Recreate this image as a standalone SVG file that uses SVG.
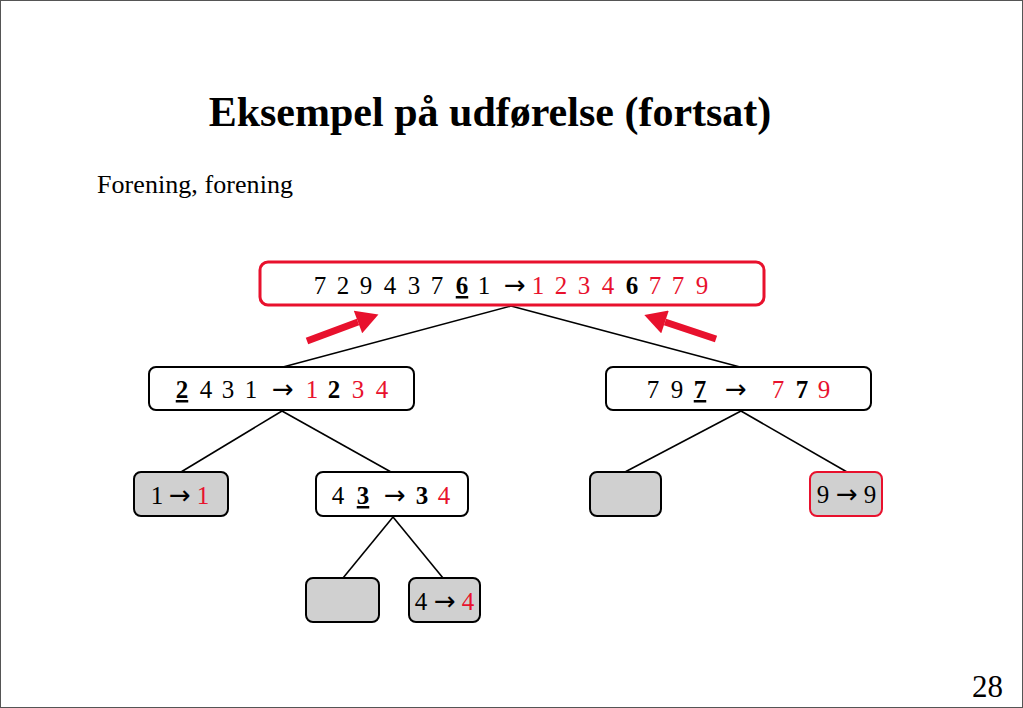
<svg xmlns="http://www.w3.org/2000/svg" width="1023" height="708" viewBox="0 0 1023 708">
<style>
text{font-family:"Liberation Serif","Times New Roman",serif;fill:#000}
.d{font-size:25px;text-anchor:middle}
.ar{font-family:"DejaVu Sans",sans-serif;font-size:26px;text-anchor:middle}
.r{fill:#e8112d}
.b{font-weight:bold}
.u{font-weight:bold;text-decoration:underline}
.n{fill:#fff;stroke:#000;stroke-width:2}
.g{fill:#d0d0d0;stroke:#000;stroke-width:2}
.gr{fill:#d0d0d0;stroke:#e8112d;stroke-width:2}
.conn line{stroke:#000;stroke-width:1.6}
.conn line.big{stroke:#e8112d;stroke-width:7}
</style>
<defs>
<marker id="rh" markerUnits="userSpaceOnUse" markerWidth="24" markerHeight="24" viewBox="0 0 20 22" refX="0" refY="11" orient="auto">
<path d="M0,0 L20,11 L0,22 z" fill="#e8112d"/>
</marker>
</defs>
<rect x="0.5" y="0.5" width="1022" height="707" fill="#fff" stroke="#555" stroke-width="1"/>
<text x="490" y="126" font-size="42" font-weight="bold" text-anchor="middle">Eksempel på udførelse (fortsat)</text>
<text x="97" y="193" font-size="26" textLength="196">Forening, forening</text>
<text x="1003" y="697" font-size="31" text-anchor="end">28</text>

<g class="conn">
<line x1="511" y1="306" x2="283" y2="367"/>
<line x1="511" y1="306" x2="740" y2="367"/>
<line x1="282" y1="411" x2="181" y2="472"/>
<line x1="282" y1="411" x2="391" y2="472"/>
<line x1="741" y1="411" x2="625" y2="472"/>
<line x1="741" y1="411" x2="847" y2="472"/>
<line x1="393" y1="517" x2="343" y2="578"/>
<line x1="393" y1="517" x2="443" y2="578"/>
<line class="big" x1="307" y1="341" x2="358" y2="322" marker-end="url(#rh)"/>
<line class="big" x1="716" y1="339" x2="665" y2="322" marker-end="url(#rh)"/>
</g>

<g id="root">
<rect x="260" y="262" width="504" height="43" rx="8" fill="#fff" stroke="#e8112d" stroke-width="3"/>
<text class="d" y="294"><tspan x="320">7</tspan><tspan x="343">2</tspan><tspan x="366">9</tspan><tspan x="390">4</tspan><tspan x="414">3</tspan><tspan x="437">7</tspan><tspan x="462" class="u">6</tspan><tspan x="484">1</tspan><tspan x="515" class="ar">→</tspan><tspan x="538" class="r">1</tspan><tspan x="561" class="r">2</tspan><tspan x="584" class="r">3</tspan><tspan x="608" class="r">4</tspan><tspan x="632" class="b">6</tspan><tspan x="655" class="r">7</tspan><tspan x="678" class="r">7</tspan><tspan x="702" class="r">9</tspan></text>
</g>

<g id="left">
<rect class="n" x="149" y="367" width="265" height="43" rx="7"/>
<text class="d" y="398"><tspan x="182" class="u">2</tspan><tspan x="206">4</tspan><tspan x="228">3</tspan><tspan x="251">1</tspan><tspan x="283" class="ar">→</tspan><tspan x="312" class="r">1</tspan><tspan x="334" class="b">2</tspan><tspan x="358" class="r">3</tspan><tspan x="382" class="r">4</tspan></text>
</g>

<g id="right">
<rect class="n" x="606" y="367" width="265" height="43" rx="7"/>
<text class="d" y="398"><tspan x="653">7</tspan><tspan x="677">9</tspan><tspan x="700" class="u">7</tspan><tspan x="736" class="ar">→</tspan><tspan x="778" class="r">7</tspan><tspan x="802" class="b">7</tspan><tspan x="824" class="r">9</tspan></text>
</g>

<g id="leaf1">
<rect class="g" x="134" y="472" width="94" height="44" rx="7"/>
<text class="d" y="504"><tspan x="157">1</tspan><tspan x="180" class="ar">→</tspan><tspan x="203" class="r">1</tspan></text>
</g>

<g id="n43">
<rect class="n" x="316" y="472" width="152" height="44" rx="7"/>
<text class="d" y="504"><tspan x="338">4</tspan><tspan x="363" class="u">3</tspan><tspan x="395" class="ar">→</tspan><tspan x="422" class="b">3</tspan><tspan x="444" class="r">4</tspan></text>
</g>

<g id="empty1">
<rect class="g" x="590" y="472" width="71" height="44" rx="7"/>
</g>

<g id="leaf9">
<rect class="gr" x="810" y="472" width="72" height="44" rx="7"/>
<text class="d" y="503"><tspan x="823">9</tspan><tspan x="847" class="ar">→</tspan><tspan x="870">9</tspan></text>
</g>

<g id="empty2">
<rect class="g" x="306" y="578" width="73" height="44" rx="7"/>
</g>

<g id="leaf4">
<rect class="g" x="409" y="578" width="71" height="44" rx="7"/>
<text class="d" y="610"><tspan x="421">4</tspan><tspan x="445" class="ar">→</tspan><tspan x="468" class="r">4</tspan></text>
</g>
</svg>
